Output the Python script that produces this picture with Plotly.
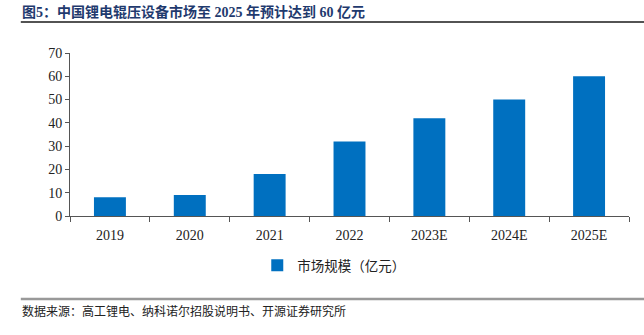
import plotly.graph_objects as go

categories = ["2019", "2020", "2021", "2022", "2023E", "2024E", "2025E"]
values = [8, 9, 18, 32, 42, 50, 60]
series_name = "市场规模（亿元）"
title_text = "图5：中国锂电辊压设备市场至 2025 年预计达到 60 亿元"
source_text = "数据来源：高工锂电、纳科诺尔招股说明书、开源证券研究所"

fig = go.Figure()
fig.add_trace(go.Bar(x=categories, y=values, name=series_name,
                     marker=dict(color="#0070C0", line=dict(width=0))))

serif = "Liberation Serif, Noto Sans CJK SC"
H = 163.0
fig.update_layout(
    width=644, height=335,
    margin=dict(l=70, r=15, t=53, b=119),
    paper_bgcolor="white", plot_bgcolor="white",
    bargap=0.6,
    showlegend=True,
    legend=dict(orientation="h", x=0.335, xanchor="left", y=-(250 - 216) / H, yanchor="top",
                font=dict(family="Noto Sans CJK SC", size=13.5, color="#222"),
                itemwidth=30),
    xaxis=dict(showline=True, linecolor="#555", linewidth=1, ticks="outside",
               ticklen=5, tickcolor="#555", tickson="boundaries", ticklabelstandoff=6,
               tickfont=dict(family=serif, size=14, color="#222")),
    yaxis=dict(range=[0, 70], dtick=10, showgrid=False, zeroline=False,
               showline=True, linecolor="#555", linewidth=1, ticks="outside",
               ticklen=4, tickcolor="#555",
               tickfont=dict(family=serif, size=14, color="#222")),
    font=dict(family="Noto Sans CJK SC"),
)

fig.add_annotation(text="<b>" + title_text + "</b>", xref="paper", yref="paper",
                   x=-0.09, y=(216 - 12) / H, xanchor="left", yanchor="middle", showarrow=False,
                   font=dict(family="Liberation Serif, Noto Sans CJK SC", size=14, color="#1F3A6E"))
fig.add_annotation(text=source_text, xref="paper", yref="paper",
                   x=-0.09, y=-(310 - 216) / H, xanchor="left", yanchor="middle", showarrow=False,
                   font=dict(family="Noto Sans CJK SC", size=12, color="#222"))

fig.add_shape(type="line", xref="paper", yref="paper", x0=-0.088, x1=1.027,
              y0=(216 - 22) / H, y1=(216 - 22) / H,
              line=dict(color="#1a1a1a", width=1.5))
fig.add_shape(type="line", xref="paper", yref="paper", x0=-0.088, x1=1.027,
              y0=-(299 - 216) / H, y1=-(299 - 216) / H,
              line=dict(color="#999", width=2.5))

fig.write_html("out.html")
